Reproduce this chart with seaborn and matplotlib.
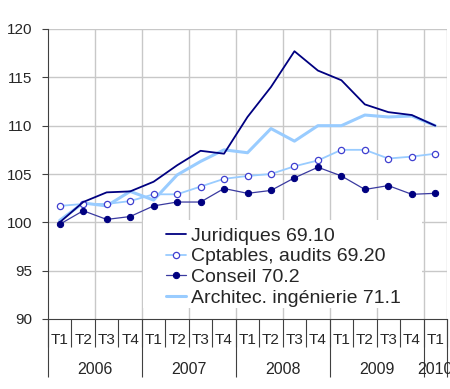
import numpy as np
import pandas as pd
import matplotlib
matplotlib.use("Agg")
import matplotlib.pyplot as plt
from matplotlib.patches import Rectangle
import seaborn as sns

# ======= DATA =======
quarters = ["T1", "T2", "T3", "T4"] * 4 + ["T1"]
years = ["2006", "2007", "2008", "2009", "2010"]
year_centers = [1.5, 5.5, 9.5, 13.5, 16]
year_bounds = [-0.5, 3.5, 7.5, 11.5, 15.5, 16.5]

juridiques = [100.0, 102.1, 103.1, 103.2, 104.2, 105.9, 107.4, 107.1, 110.9,
              114.0, 117.7, 115.7, 114.7, 112.2, 111.4, 111.1, 110.0]
cptables = [101.7, 101.9, 101.9, 102.2, 102.9, 102.9, 103.7, 104.5, 104.8,
            105.0, 105.8, 106.4, 107.5, 107.5, 106.6, 106.8, 107.1]
conseil = [99.8, 101.2, 100.3, 100.6, 101.7, 102.1, 102.1, 103.5, 103.0,
           103.3, 104.6, 105.7, 104.8, 103.4, 103.8, 102.9, 103.0]
architec = [100.2, 102.0, 101.7, 103.2, 102.3, 104.9, 106.3, 107.5, 107.2,
            109.7, 108.4, 110.0, 110.0, 111.1, 110.9, 111.0, 110.0]

labels = ["Juridiques 69.10", "Cptables, audits 69.20", "Conseil 70.2",
          "Architec. ingénierie 71.1"]
# ====================

x = np.arange(len(quarters))

sns.set_style("white")
plt.rcParams["font.family"] = ["Liberation Sans", "DejaVu Sans"]

fig = plt.figure(figsize=(4.5, 3.89), dpi=100)
ax = fig.add_axes([48 / 450, 1 - 319 / 389, 399 / 450, 290 / 389])

grid_c = "#c8c8c8"
for v in [95, 100, 105, 110, 115, 120]:
    ax.axhline(v, color=grid_c, lw=1, zorder=0)
for v in [1.5, 3.5, 5.5, 7.5, 9.5, 11.5, 13.5, 15.5, 16.5]:
    ax.axvline(v, color=grid_c, lw=1, zorder=0)

# white box behind the legend, hiding the grid
ax.add_patch(Rectangle((0.238, 0.038), 0.699, 0.303, transform=ax.transAxes,
                       facecolor="white", edgecolor="none", zorder=1))

# --- series ---
sns.lineplot(x=x, y=architec, color="#99ccff", lw=2.2, ax=ax, zorder=2)
sns.lineplot(x=x, y=cptables, color="#99ccff", lw=1.3, marker="o",
             markersize=4.5, markerfacecolor="white", markeredgecolor="#4040d0",
             markeredgewidth=0.9, ax=ax, zorder=3)
sns.lineplot(x=x, y=conseil, color="#3a3aa0", lw=0.9, marker="o",
             markersize=4.5, markerfacecolor="#000080", markeredgecolor="#000080",
             ax=ax, zorder=3)
sns.lineplot(x=x, y=juridiques, color="#000080", lw=1.3, ax=ax, zorder=4)

series_lines = ax.get_lines()[-4:]
handles = [series_lines[3], series_lines[1], series_lines[2], series_lines[0]]

ax.set_xlim(-0.5, 16.5)
ax.set_ylim(90, 120)
ax.set_yticks([90, 95, 100, 105, 110, 115, 120])
ax.tick_params(axis="y", left=True, length=4, width=0.8, color="#404040",
               labelsize=11, pad=7)

# quarter labels and separators
ax.set_xticks(x, quarters)
ax.set_xticks(np.arange(-0.5, 17, 1), minor=True)
ax.tick_params(axis="x", which="major", length=0, labelsize=11, pad=10)
ax.tick_params(axis="x", which="minor", bottom=True, length=20, width=0.8,
               color="#404040")

# year labels and separators
sec = ax.secondary_xaxis("bottom")
sec.set_xticks(year_centers, years, minor=True)
sec.set_xticks(year_bounds, [""] * len(year_bounds))
sec.tick_params(axis="x", which="major", length=42, width=0.8, color="#404040")
sec.tick_params(axis="x", which="minor", length=0, labelsize=11.5, pad=31)
sec.spines["bottom"].set_visible(False)

for s in ["top", "right"]:
    ax.spines[s].set_visible(False)
for s in ["left", "bottom"]:
    ax.spines[s].set_color("#404040")
    ax.spines[s].set_linewidth(0.8)

leg = ax.legend(handles, labels, loc="upper left",
                bbox_to_anchor=(0.296, 0.316), fontsize=14, frameon=False,
                handlelength=1.0, handletextpad=0.28, labelspacing=0.15,
                borderpad=0, borderaxespad=0)
leg.set_zorder(5)

fig.savefig("out.png", dpi=100)
